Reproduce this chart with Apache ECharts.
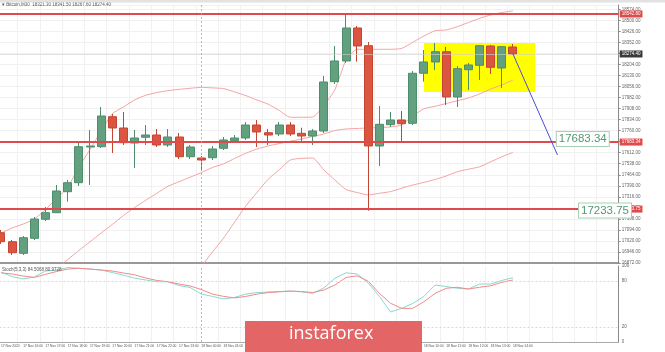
<!DOCTYPE html>
<html><head><meta charset="utf-8">
<script src="https://cdn.jsdelivr.net/npm/echarts@6/dist/echarts.min.js"></script>
<style>html,body{margin:0;padding:0;background:#fff}#c{width:665px;height:352px}</style>
</head><body><div id="c"></div>
<script>
const categories = ['17 Nov 15:00','17 Nov 15:30','17 Nov 16:00','17 Nov 16:30','17 Nov 17:00','17 Nov 17:30','17 Nov 18:00','17 Nov 18:30','17 Nov 19:00','17 Nov 19:30','17 Nov 20:00','17 Nov 20:30','17 Nov 21:00','17 Nov 21:30','17 Nov 22:00','17 Nov 22:30','17 Nov 23:00','17 Nov 23:30','18 Nov 00:00','18 Nov 00:30','18 Nov 01:00','18 Nov 01:30','18 Nov 02:00','18 Nov 02:30','18 Nov 03:00','18 Nov 03:30','18 Nov 04:00','18 Nov 04:30','18 Nov 05:00','18 Nov 05:30','18 Nov 06:00','18 Nov 06:30','18 Nov 07:00','18 Nov 07:30','18 Nov 08:00','18 Nov 08:30','18 Nov 09:00','18 Nov 09:30','18 Nov 10:00','18 Nov 10:30','18 Nov 11:00','18 Nov 11:30','18 Nov 12:00','18 Nov 12:30','18 Nov 13:00','18 Nov 13:30','18 Nov 14:00','18 Nov 14:30','18 Nov 15:00','18 Nov 15:30','18 Nov 16:00','18 Nov 16:30','18 Nov 17:00','18 Nov 17:30','18 Nov 18:00','18 Nov 18:30'];
const opens  = [17075.3,17014.9,16937.1,17037.7,17165.2,17209.5,17350.4,17410.8,17650.3,17652.3,17853.6,17777.8,17677.2,17715.4,17730.8,17663.7,17717.4,17585.2,17576.5,17578.5,17641.6,17692.6,17710.7,17797.9,17746.3,17737.6,17797.9,17742.3,17724.1,17757.7,18088.5,18227.4,18448.8,18330.1,17657.0,17800.0,17831.5,17809.4,18144.9,18220.7,18289.8,17985.8,18169.0,18198.5,18328.0,18180.4,18321.3];
const closes = [17014.9,16941.1,17041.7,17167.2,17209.5,17355.1,17410.8,17652.3,17657.0,17858.3,17777.8,17679.2,17710.7,17730.8,17663.7,17717.4,17585.2,17650.3,17563.1,17636.9,17697.3,17710.7,17797.9,17751.0,17730.8,17797.9,17737.6,17724.1,17757.7,18086.5,18227.4,18448.8,18328.0,17657.0,17802.6,17831.5,17806.7,18144.9,18220.7,18289.8,17985.8,18175.7,18200.5,18330.1,18185.1,18323.3,18274.4];
const lows   = [16999.5,16925.6,16925.6,17026.3,17153.8,17207.5,17283.3,17388.6,17395.3,17643.6,17610.1,17663.7,17509.4,17663.7,17650.3,17650.3,17569.8,17569.8,17491.3,17563.1,17630.2,17683.9,17697.3,17650.3,17663.7,17724.1,17724.1,17685.9,17663.7,17744.3,18073.1,18214.0,18222.7,17222.9,17522.8,17784.5,17679.2,17797.9,18088.5,18167.0,17932.1,17918.7,18032.8,18099.9,18140.2,18046.2,18267.6];
const highs  = [17093.4,17026.3,17053.1,17180.6,17247.7,17395.3,17428.9,17677.2,17764.4,17918.7,17871.8,17885.2,17764.4,17797.9,17771.1,17771.1,17744.3,17663.7,17589.9,17657.0,17717.4,17730.8,17818.1,17831.5,17771.1,17818.1,17818.1,17779.8,17771.1,18126.7,18328.0,18549.5,18462.2,18354.9,17925.4,17885.2,17891.9,18160.3,18301.2,18348.2,18321.3,18193.8,18214.0,18334.7,18334.7,18328.0,18341.5];
const bbUpper  = [17073.3,17106.8,17133.7,17167.2,17231.0,17305.4,17381.9,17516.1,17633.6,17757.7,17873.1,17918.7,17965.7,17997.2,18016.0,18028.1,18036.8,18044.2,18050.2,18046.9,18042.2,18019.4,17995.2,17965.7,17937.5,17895.2,17849.6,17849.6,17851.6,17928.1,18034.8,18234.1,18305.9,18305.9,18305.9,18305.9,18311.9,18352.9,18395.1,18430.0,18435.4,18457.5,18485.7,18513.2,18536.0,18552.8,18562.9];
const bbMiddle = [null,null,null,null,16778.0,16838.4,16895.5,16955.8,17014.2,17073.3,17130.3,17190.7,17244.4,17292.7,17339.7,17386.6,17417.5,17447.7,17478.6,17512.8,17537.6,17573.8,17608.1,17636.9,17657.0,17673.1,17689.2,17704.0,17720.8,17737.6,17760.4,17771.1,17774.5,17777.8,17781.2,17784.5,17797.9,17858.3,17906.7,17923.4,17942.2,17960.3,17979.1,18006.0,18039.5,18066.3,18099.9];
const bbLower  = [null,null,null,null,null,null,null,null,null,null,null,null,null,null,null,null,16664.0,16757.9,16848.5,16945.8,17039.7,17147.1,17254.4,17345.0,17433.6,17498.0,17563.1,17573.8,17576.5,17496.7,17428.9,17364.5,17345.0,17328.2,17339.7,17351.1,17373.9,17395.3,17412.8,17432.3,17455.7,17484.6,17501.4,17517.5,17551.0,17584.6,17614.8];
const stochMain   = [92,86,83,85.5,93.4,94.7,98,97,96,94.7,91.4,88,84,81.6,79.3,79.3,74.3,71.7,63,60,56.6,58.8,63,65,65.8,66.4,67,66,64,71,84,91,89.5,77.6,60,39.5,44.3,50.7,60,75,73,70.7,69.7,76.3,76.3,81,84.6];
const stochSignal = [91,89.5,86.8,85,89,92.8,96,97,96,94.7,93.4,90.8,88.4,84.2,81,79.3,76.3,73.7,69,63,60,58,60,63,65,66,67,66.4,65,68.4,75,85,87,80,64,51,44.3,44.3,53,64,70.7,72,69.7,72,74,78.5,81.6];
const resistanceLevel = 18542.8;
const level1 = 17683.34;
const level2 = 17233.75;
const lastPrice = 18274.4;
const boxTop = 18348, boxBottom = 18019, boxFrom = 38, boxTo = 48;
const arrowFrom = [46, 18274.4], arrowTo = [50, 17596.7];
const priceTickStart = 16872, priceTickStep = 74, priceMax = 18603;
const stochTicks = [0, 20, 80, 100];
const stochLevels = [20, 80];
const daySplit = 18;

const FONT = 'Liberation Sans';
const chart = echarts.init(document.getElementById('c'));
const candleData = opens.map((o, i) => [o, closes[i], lows[i], highs[i]]);
const axisLbl = bg => ({show:true, position:'end', distance:1, formatter:p => Number(p.value).toFixed(2),
  backgroundColor:bg, color:'#fff', fontSize:4.5, padding:[1,2], fontFamily:FONT});
const priceBox = off => ({show:true, position:'inside', offset:off, formatter:p => Number(p.value).toFixed(2),
  backgroundColor:'#fff', borderColor:'#a9cfb6', borderWidth:1, padding:[1,2], color:'#4f9a70',
  fontSize:11.5, fontFamily:FONT});
const lineBase = {type:'line', showSymbol:false, symbol:'none', smooth:0.2, z:3, silent:true,
  lineStyle:{color:'#f3a3a3', width:1}, xAxisIndex:0, yAxisIndex:0};

chart.setOption({
  animation:false,
  backgroundColor:'#fff',
  title:[
    {text:'▾ Bitcoin,M30  18321.30 18341.50 18267.60 18274.40', left:2, top:2, padding:0,
     textStyle:{fontSize:4.5, fontWeight:'normal', color:'#555', fontFamily:FONT}},
    {text:'Stoch(5,3,3) 84.5068 80.9728', left:2, top:267, padding:0,
     textStyle:{fontSize:4.5, fontWeight:'normal', color:'#555', fontFamily:FONT}}
  ],
  grid:[
    {left:-4.57, right:46.3, top:5, height:258, outerBoundsMode:'none', containLabel:false},
    {left:-4.57, right:46.3, top:266, height:76, outerBoundsMode:'none', containLabel:false}
  ],
  xAxis:[
    {type:'category', gridIndex:0, data:categories, boundaryGap:true,
     axisLine:{show:true, lineStyle:{color:'#7a7a7a', width:1.5}}, axisTick:{show:false}, axisLabel:{show:false},
     splitLine:{show:true, interval:1, lineStyle:{color:'#f1f1f1', width:1}}},
    {type:'category', gridIndex:1, data:categories, boundaryGap:true,
     axisLine:{show:true, lineStyle:{color:'#aaa', width:1}}, axisTick:{show:false},
     splitLine:{show:true, interval:1, lineStyle:{color:'#f1f1f1', width:1}},
     axisLabel:{show:true, interval:(i) => i % 2 === 0 && i <= 46, align:'left', margin:3,
       showMinLabel:true, hideOverlap:false,
       fontSize:3.3, color:'#555', fontFamily:FONT,
       formatter:(v, i) => i === 0 ? '17 Nov 2020' : v}}
  ],
  yAxis:[
    {type:'value', gridIndex:0, position:'right', min:priceTickStart, max:priceMax, interval:priceTickStep,
     axisLine:{show:true, lineStyle:{color:'#8a8a8a'}}, axisTick:{show:true, length:2, lineStyle:{color:'#8a8a8a'}},
     axisLabel:{show:true, margin:3, fontSize:4.5, color:'#666', fontFamily:FONT, showMaxLabel:false,
       formatter:v => v.toFixed(2)},
     splitLine:{show:true, lineStyle:{color:'#f1f1f1'}}},
    {type:'value', gridIndex:1, position:'right', min:0, max:100, interval:20,
     axisLine:{show:true, lineStyle:{color:'#8a8a8a'}}, axisTick:{show:false},
     axisLabel:{show:true, margin:3, fontSize:4.5, color:'#666', fontFamily:FONT,
       formatter:v => stochTicks.includes(v) ? String(v) : ''},
     splitLine:{show:false}}
  ],
  series:[
    {type:'line', name:'box', data:[], xAxisIndex:0, yAxisIndex:0, z:1, silent:true,
     markArea:{silent:true, itemStyle:{color:'#ffff00'},
       data:[[{xAxis:categories[boxFrom], yAxis:boxTop}, {xAxis:categories[boxTo], yAxis:boxBottom}]]}},
    Object.assign({}, lineBase, {name:'upper', data:bbUpper}),
    Object.assign({}, lineBase, {name:'middle', data:bbMiddle}),
    Object.assign({}, lineBase, {name:'lower', data:bbLower}),
    {type:'candlestick', name:'BTC', xAxisIndex:0, yAxisIndex:0, data:candleData, barWidth:8.5, z:4,
     itemStyle:{color:'#62a080', color0:'#dc5540', borderColor:'#4e8d6c', borderColor0:'#c24632', borderWidth:1},
     markLine:{silent:true, symbol:['none','none'], animation:false, precision:2,
       data:[
         {yAxis:resistanceLevel, lineStyle:{color:'#e04a4a', width:2, type:'solid'}, label:axisLbl('#e04a4a')},
         {yAxis:level1, lineStyle:{color:'#e04a4a', width:2, type:'solid'}, label:axisLbl('#e04a4a')},
         {yAxis:level2, lineStyle:{color:'#e04a4a', width:2, type:'solid'}, label:axisLbl('#e04a4a')},
         {yAxis:lastPrice, lineStyle:{color:'#cfcfcf', width:0.6, type:'solid'}, label:axisLbl('#3a3a3a')},
         {xAxis:categories[daySplit], lineStyle:{color:'#a8a8a8', width:0.8, type:[2,2]}, label:{show:false}},
         [{coord:[categories[arrowFrom[0]], arrowFrom[1]]}, {coord:[categories[arrowTo[0]], arrowTo[1]],
           lineStyle:{color:'#4b4bd6', width:1, type:'solid'}, label:{show:false}}]
       ]},
     markPoint:{silent:true, symbol:'circle', symbolSize:0, animation:false,
       data:[
         {coord:[categories[52], level1], value:level1, label:priceBox([3,-3])},
         {coord:[categories[54], level2], value:level2, label:priceBox([3,1.5])}
       ]}},
    {type:'line', name:'stoch', data:stochMain, xAxisIndex:1, yAxisIndex:1, showSymbol:false, symbol:'none',
     lineStyle:{color:'#8ad8cf', width:1}, z:3, silent:true,
     markLine:{silent:true, symbol:['none','none'], label:{show:false},
       data:[
         {yAxis:stochLevels[0], lineStyle:{color:'#cfcfcf', width:0.8, type:[2,2]}},
         {yAxis:stochLevels[1], lineStyle:{color:'#cfcfcf', width:0.8, type:[2,2]}},
         {xAxis:categories[daySplit], lineStyle:{color:'#a8a8a8', width:0.8, type:[2,2]}}
       ]}},
    {type:'line', name:'signal', data:stochSignal, xAxisIndex:1, yAxisIndex:1, showSymbol:false, symbol:'none',
     lineStyle:{color:'#f08a8a', width:1}, z:3, silent:true}
  ],
  graphic:[
    {type:'rect', shape:{x:0, y:0, width:665, height:2.5}, style:{fill:'#e2e2e2'}, z:50, silent:true},
    {type:'rect', shape:{x:245, y:321, width:177, height:31}, style:{fill:'#e36565'}, z:100, silent:true},
    {type:'text', x:289, y:325, style:{text:'instaforex', fill:'#fff', font:'18px "Open Sans", sans-serif'}, z:101, silent:true}
  ]
});
</script></body></html>
